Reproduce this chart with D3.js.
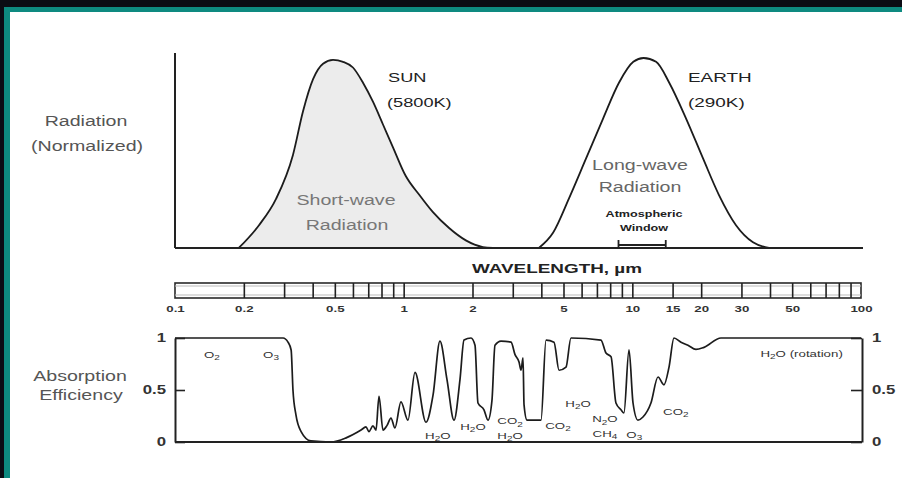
<!DOCTYPE html>
<head>
<meta charset="utf-8">
<script src="https://d3js.org/d3.v7.min.js"></script>
<style>
body {
  margin: 0;
  background: #fff;
  overflow: hidden;
}
svg {
  display: block;
}
text {
  font-family: Arial, "Liberation Sans", Helvetica, sans-serif;
}
.axis path, .axis line {
  stroke: #222;
}
</style>
</head>
<body>
<div id="chart"></div>
<script>

// --- Data ---
// blackbody curves, wavelength in µm / normalized radiation
let sunWl  = [0.19, 0.233, 0.277, 0.328, 0.363, 0.402, 0.444, 0.491, 0.543, 0.60, 0.664, 0.734, 0.812, 0.898, 1.02, 1.17, 1.34, 1.58, 1.87, 2.22, 2.46];
let sunRad = [0, 0.12, 0.26, 0.49, 0.72, 0.89, 0.97, 0.99, 0.98, 0.95, 0.87, 0.77, 0.65, 0.53, 0.38, 0.28, 0.19, 0.105, 0.04, 0.005, 0];

let earthWl  = [3.9, 4.5, 5.28, 6.27, 7.44, 8.74, 10.1, 11.2, 12.7, 14.5, 17.2, 20.4, 23.9, 28.4, 33.7, 39.6];
let earthRad = [0, 0.08, 0.26, 0.47, 0.68, 0.87, 0.98, 1.0, 0.98, 0.87, 0.68, 0.47, 0.28, 0.12, 0.03, 0];

// atmospheric absorption efficiency
let absWl = [0.1, 0.297, 0.312, 0.322, 0.328, 0.338, 0.356, 0.393, 0.481, 0.56, 0.651, 0.684, 0.705, 0.734, 0.757,
  0.78, 0.812, 0.846, 0.88, 0.916, 0.973, 1.044, 1.121, 1.252, 1.344, 1.441, 1.547, 1.66, 1.763, 1.836, 1.97, 2.051,
  2.113, 2.245, 2.338, 2.433, 2.508, 2.665, 2.948, 3.069, 3.195, 3.26, 3.326, 3.36, 3.463, 3.715, 3.986, 4.193, 4.545,
  4.78, 5.128, 5.39, 7.29, 7.67, 8.07, 8.48, 8.92, 9.19, 9.67, 10.07, 10.58, 11.13, 12.06, 12.95, 13.75, 14.47, 15.21,
  16.32, 17.51, 18.98, 20.58, 24.42, 100];
let absVal = [1, 1, 0.96, 0.885, 0.5, 0.26, 0.10, 0.01, 0, 0.04, 0.115, 0.145, 0.10, 0.155, 0.115,
  0.44, 0.115, 0.16, 0.23, 0.135, 0.385, 0.21, 0.67, 0.19, 0.45, 0.97, 0.6, 0.21, 0.6, 0.98, 1.0, 0.93,
  0.375, 0.31, 0.21, 0.40, 0.93, 0.97, 0.96, 0.84, 0.77, 0.69, 0.81, 0.36, 0.21, 0.21, 0.21, 0.98, 0.96,
  0.69, 0.72, 1.0, 0.98, 0.855, 0.82, 0.375, 0.31, 0.28, 0.885, 0.375, 0.21, 0.24, 0.375, 0.625, 0.55, 0.72, 1.0,
  0.96, 0.93, 0.89, 0.91, 1.0, 1.0];

// gas labels under the absorption curve
let gasNames = ["O2", "O3", "H2O", "H2O", "CO2", "H2O", "CO2", "H2O", "N2O", "CH4", "O3", "CO2", "H2O (rotation)"];
let gasWl    = [0.145, 0.263, 1.41, 2.01, 2.92, 2.92, 4.73, 5.79, 7.59, 7.59, 10.2, 15.5, 55];
let gasAbs   = [0.81, 0.81, 0.03, 0.115, 0.17, 0.03, 0.125, 0.34, 0.19, 0.05, 0.04, 0.26, 0.82];

// wavelength ruler
let rulerTicks  = [0.2, 0.3, 0.4, 0.5, 0.6, 0.7, 0.8, 0.9, 1, 2, 3, 4, 5, 6, 7, 8, 9, 10, 15, 20, 30, 40, 50, 60, 70, 80, 90];
let rulerLabels = [0.1, 0.2, 0.5, 1, 2, 5, 10, 15, 20, 30, 50, 100];
let absTicks    = [0, 0.5, 1];
let windowBand  = [8.7, 14]; // atmospheric window, µm

// --- Layout ---
const W = 902, H = 478;
const SX = 1.4; // lettering of the source figure is stretched sideways

let svg = d3.select("#chart").append("svg")
    .attr("width", W)
    .attr("height", H);

// frame (only top and left edges show)
svg.append("rect").attr("width", W).attr("height", H).attr("fill", "#0b0c14");
svg.append("rect").attr("x", 4).attr("y", 7).attr("width", W - 4).attr("height", H - 7).attr("fill", "#0e8a80");
svg.append("rect").attr("x", 10).attr("y", 12).attr("width", W - 10).attr("height", H - 12).attr("fill", "#fff");

let x = d3.scaleLog().domain([0.1, 100]).range([175, 861]),
    yRad = d3.scaleLinear().domain([0, 1]).range([248, 58]),
    yAbs = d3.scaleLinear().domain([0, 1]).range([442, 338]);

let x0 = x.range()[0], x1 = x.range()[1];

// text helper, digits become subscripts when chem is set
function label(g, str, px, py, size, opts) {
  opts = opts || {};
  let t = g.append("text")
      .attr("transform", "translate(" + px + "," + py + ") scale(" + SX + ",1)")
      .attr("font-size", size)
      .attr("text-anchor", opts.anchor || "middle")
      .attr("fill", opts.fill || "#333")
      .attr("font-weight", opts.weight || "normal");
  if (opts.chem) {
    let down = false;
    str.split(/(\d)/).filter(function(s) { return s.length; }).forEach(function(s) {
      let sp = t.append("tspan").text(s);
      if (/^\d$/.test(s)) { sp.attr("font-size", "75%").attr("dy", size * 0.25); down = true; }
      else if (down) { sp.attr("dy", -size * 0.25); down = false; }
    });
  } else {
    t.text(str);
  }
  return t;
}

// --- Top panel: radiation curves ---
let topG = svg.append("g");

let radLine = d3.line()
    .x(function(d) { return x(d[0]); })
    .y(function(d) { return yRad(d[1]); })
    .curve(d3.curveMonotoneX);
let radArea = d3.area()
    .x(function(d) { return x(d[0]); })
    .y0(yRad(0))
    .y1(function(d) { return yRad(d[1]); })
    .curve(d3.curveMonotoneX);

let sun = d3.zip(sunWl, sunRad),
    earth = d3.zip(earthWl, earthRad);

topG.append("path").datum(sun).attr("d", radArea).attr("fill", "#ececec");
topG.selectAll("path.rad").data([sun, earth]).enter().append("path")
    .attr("class", "rad")
    .attr("d", radLine)
    .attr("fill", "none")
    .attr("stroke", "#1c1c1c")
    .attr("stroke-width", 1.8);

topG.append("line")
    .attr("x1", x0).attr("x2", x0)
    .attr("y1", yRad(1) - 5).attr("y2", yRad(0))
    .attr("stroke", "#222").attr("stroke-width", 2);
topG.append("line")
    .attr("x1", x0).attr("x2", x1 + 2)
    .attr("y1", yRad(0)).attr("y2", yRad(0))
    .attr("stroke", "#222").attr("stroke-width", 2);

// atmospheric window bracket
let wx0 = x(windowBand[0]), wx1 = x(windowBand[1]), wy = yRad(0) - 3;
topG.append("path")
    .attr("d", "M" + wx0 + "," + (wy - 5) + "V" + (wy + 4) + "M" + wx0 + "," + wy + "H" + wx1 +
               "M" + wx1 + "," + (wy - 5) + "V" + (wy + 4))
    .attr("fill", "none").attr("stroke", "#222").attr("stroke-width", 1.8);

label(topG, "Radiation", 86, 126, 14, {fill: "#555"});
label(topG, "(Normalized)", 87, 151, 14, {fill: "#555"});
label(topG, "SUN", 388, 82, 13, {anchor: "start", fill: "#222"});
label(topG, "(5800K)", 387, 107, 13, {anchor: "start", fill: "#222"});
label(topG, "EARTH", 688, 82, 13.5, {anchor: "start", fill: "#222"});
label(topG, "(290K)", 688, 107, 13.5, {anchor: "start", fill: "#222"});
label(topG, "Short-wave", 346, 205, 14, {fill: "#777"});
label(topG, "Radiation", 347, 230, 14, {fill: "#777"});
label(topG, "Long-wave", 640, 170, 14, {fill: "#666"});
label(topG, "Radiation", 640, 192, 14, {fill: "#666"});
label(topG, "Atmospheric", 644, 217, 9, {fill: "#222", weight: "bold"});
label(topG, "Window", 644, 231, 9, {fill: "#222", weight: "bold"});

// --- Wavelength ruler ---
let ruler = svg.append("g");
let rTop = 283, rBot = 298;

label(ruler, "WAVELENGTH, µm", 557, 273, 13.5, {fill: "#222", weight: "bold"});

ruler.append("rect")
    .attr("x", x0).attr("y", rTop)
    .attr("width", x1 - x0).attr("height", rBot - rTop)
    .attr("fill", "#fff").attr("stroke", "#2a2a2a").attr("stroke-width", 1.6);
ruler.selectAll("line.inner").data([rTop + 3, rBot - 3]).enter().append("line")
    .attr("class", "inner")
    .attr("x1", x0).attr("x2", x1)
    .attr("y1", function(d) { return d; }).attr("y2", function(d) { return d; })
    .attr("stroke", "#bbb").attr("stroke-width", 1);

let rulerAxis = ruler.append("g")
    .attr("class", "axis")
    .attr("transform", "translate(0," + rBot + ")")
    .call(d3.axisBottom(x).tickValues(rulerTicks).tickSize(-(rBot - rTop)).tickFormat(""));
rulerAxis.select(".domain").remove();
rulerAxis.selectAll("line").attr("stroke", "#2a2a2a").attr("stroke-width", 1.6);

let rulerText = ruler.append("g")
    .attr("transform", "translate(0," + rBot + ")")
    .call(d3.axisBottom(x).tickValues(rulerLabels).tickSize(0).tickFormat(function(d) { return String(d); }));
rulerText.select(".domain").remove();
rulerText.selectAll("text")
    .attr("y", 14).attr("dy", 0)
    .attr("transform", "scale(" + SX + ",1)")
    .attr("font-size", 9.5)
    .attr("font-weight", "bold")
    .attr("fill", "#333");

// --- Bottom panel: absorption ---
let botG = svg.append("g");

let absLine = d3.line()
    .x(function(d) { return x(d[0]); })
    .y(function(d) { return yAbs(d[1]); })
    .curve(d3.curveMonotoneX);

botG.append("path")
    .datum(d3.zip(absWl, absVal))
    .attr("d", absLine)
    .attr("fill", "none")
    .attr("stroke", "#1c1c1c")
    .attr("stroke-width", 1.7);

botG.append("line")
    .attr("x1", x0).attr("x2", x1 + 1)
    .attr("y1", yAbs(0)).attr("y2", yAbs(0))
    .attr("stroke", "#222").attr("stroke-width", 2);

let leftAxis = botG.append("g")
    .attr("class", "axis")
    .attr("transform", "translate(" + x0 + ",0)")
    .call(d3.axisLeft(yAbs).tickValues(absTicks).tickSize(-10).tickSizeOuter(0).tickPadding(9).tickFormat(d3.format("")));
let rightAxis = botG.append("g")
    .attr("class", "axis")
    .attr("transform", "translate(" + (x1 + 1) + ",0)")
    .call(d3.axisRight(yAbs).tickValues(absTicks).tickSize(-11).tickSizeOuter(0).tickPadding(10).tickFormat(d3.format("")));

[leftAxis, rightAxis].forEach(function(a) {
  a.select(".domain").attr("stroke-width", 2);
  a.selectAll("line").attr("stroke-width", 1.6);
  a.selectAll("text")
      .attr("transform", "scale(" + SX + ",1)")
      .attr("font-size", 12)
      .attr("font-weight", "bold")
      .attr("fill", "#333");
});
leftAxis.selectAll("text").attr("x", -9 / SX);
rightAxis.selectAll("text").attr("x", 10 / SX);

label(botG, "Absorption", 80, 381, 14, {fill: "#555"});
label(botG, "Efficiency", 81, 400, 14, {fill: "#555"});

gasNames.forEach(function(n, i) {
  label(botG, n, x(gasWl[i]), yAbs(gasAbs[i]), 9.5, {chem: true, fill: "#333"});
});

</script>
</body>
